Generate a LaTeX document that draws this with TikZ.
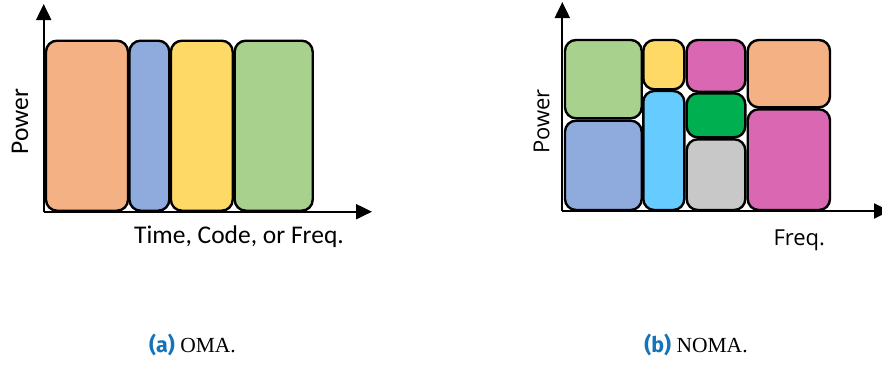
\documentclass[tikz,border=0pt]{standalone}
\usepackage{fontspec}
\setmainfont{Liberation Serif}
\newfontfamily\calib{Carlito}
\newfontfamily\opens{Open Sans}
\newfontfamily\capsf{Fira Sans}
\usetikzlibrary{arrows.meta}
\definecolor{cOrange}{HTML}{F4B183}
\definecolor{cBlue}{HTML}{8FAADC}
\definecolor{cYellow}{HTML}{FFD966}
\definecolor{cGreen}{HTML}{A9D18E}
\definecolor{cCyan}{HTML}{66CCFF}
\definecolor{cMag}{HTML}{DA67B2}
\definecolor{cDGreen}{HTML}{00B050}
\definecolor{cGray}{HTML}{C8C8C8}
\definecolor{capblue}{RGB}{20,116,186}
\tikzset{
  blk/.style={draw=black, line width=2.4pt, rounded corners=11pt},
  axis/.style={draw=black, line width=2pt, -{Triangle[length=16pt,width=15pt]}},
  lblL/.style={font=\calib\fontsize{25.5}{30}\selectfont, inner sep=0pt},
  lblR/.style={font=\opens\fontsize{22}{26}\selectfont, inner sep=0pt},
  capt/.style={font=\fontsize{21.5}{25}\selectfont, inner sep=0pt, anchor=base},
}
\newcommand{\capl}[1]{{\capsf\bfseries\color{capblue}(#1)}}
\begin{document}
\begin{tikzpicture}[x=1pt,y=-1pt]
\useasboundingbox (0,0) rectangle (882,370);
% ---------- (a) OMA ----------
\coordinate (oA) at (43.7,211.7);
\coordinate (yA) at (43.7,4);
\coordinate (xA) at (372,211.7);
\draw[blk, fill=cOrange] (46,40.7) rectangle (128,210.7);
\draw[blk, fill=cBlue] (129.5,40.7) rectangle (169.3,210.7);
\draw[blk, fill=cYellow] (170.9,40.7) rectangle (232.7,210.7);
\draw[blk, fill=cGreen] (234.7,40.7) rectangle (312.7,210.7);
\draw[axis] (oA) -- (yA);
\draw[axis] (oA) -- (xA);
\node[lblL, rotate=90] (pA) at (20,121.5) {Power};
\node[lblL, anchor=base] (tA) at (239,243.3) {Time, Code, or Freq.};
\node[capt] (cA) at (192.5,352) {\capl{a} OMA.};
% ---------- (b) NOMA ----------
\coordinate (oB) at (562.3,211);
\coordinate (yB) at (562.3,2);
\coordinate (xB) at (890,211);
\draw[blk, fill=cGreen] (565,40) rectangle (641.7,118.3);
\draw[blk, fill=cBlue] (565,120.7) rectangle (641.7,210);
\draw[blk, fill=cYellow] (643.3,40) rectangle (684.3,89.3);
\draw[blk, fill=cCyan] (643.3,91) rectangle (684.3,210);
\draw[blk, fill=cMag] (686.7,40) rectangle (745.3,91.7);
\draw[blk, fill=cDGreen] (686.7,93.3) rectangle (745.3,137.3);
\draw[blk, fill=cGray] (686.7,139.3) rectangle (745.3,210);
\draw[blk, fill=cOrange] (747.7,40) rectangle (830,107.3);
\draw[blk, fill=cMag] (747.7,109.3) rectangle (830,210);
\draw[axis] (oB) -- (yB);
\draw[axis] (oB) -- (xB);
\node[lblR, rotate=90] (pB) at (541.7,121.5) {Power};
\node[lblR, anchor=base west] (fB) at (773.3,245) {Freq.};
\node[capt] (cB) at (696,352) {\capl{b} NOMA.};
\end{tikzpicture}
\end{document}
